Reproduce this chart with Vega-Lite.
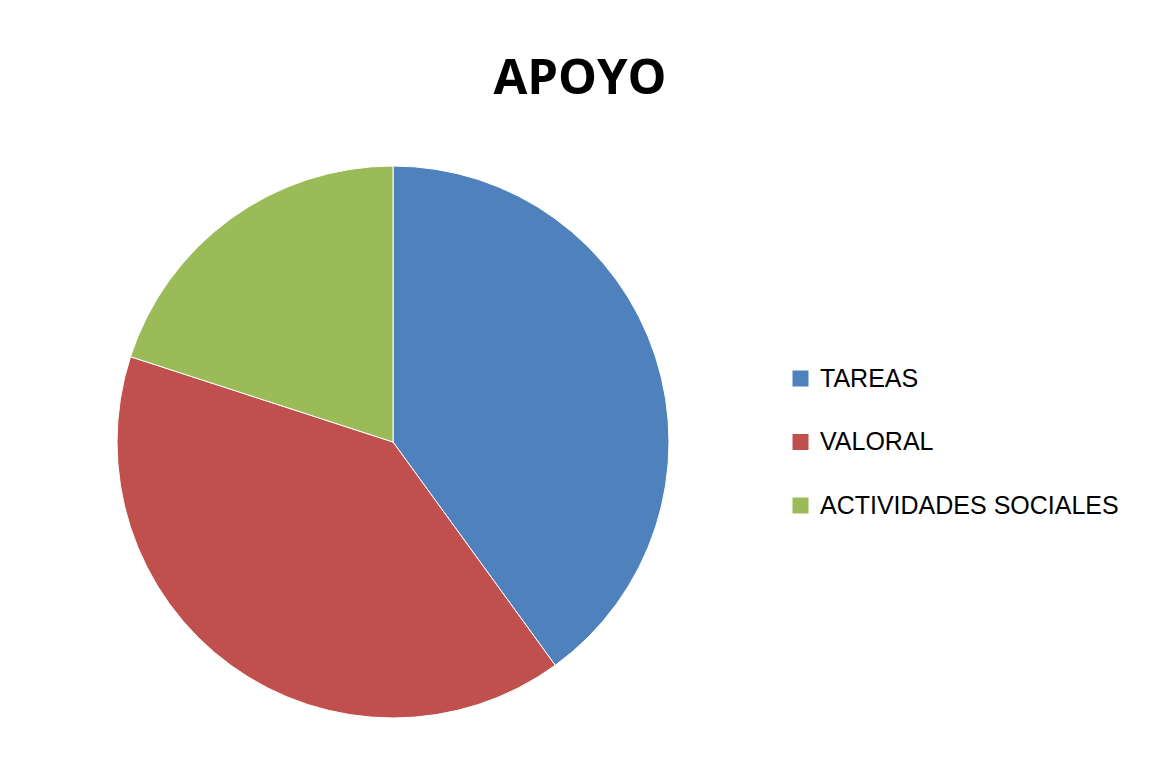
{
  "$schema": "https://vega.github.io/schema/vega-lite/v6.json",
  "autosize": "none",
  "padding": {"left": 0, "top": 120, "right": 363, "bottom": 0},
  "width": 786,
  "height": 644,
  "background": "white",
  "config": {"view": {"stroke": null}},
  "title": {
    "text": "APOYO",
    "font": "Open Sans",
    "fontSize": 49,
    "fontWeight": "bold",
    "color": "#000000",
    "anchor": "middle",
    "frame": "group",
    "orient": "top",
    "baseline": "alphabetic",
    "offset": 26,
    "dx": 187,
    "dy": 49
  },
  "data": {
    "values": [
      {"categoria": "TAREAS", "valor": 40, "orden": 1},
      {"categoria": "VALORAL", "valor": 40, "orden": 2},
      {"categoria": "ACTIVIDADES SOCIALES", "valor": 20, "orden": 3}
    ]
  },
  "mark": {"type": "arc", "outerRadius": 276, "stroke": "white", "strokeWidth": 1},
  "encoding": {
    "theta": {"field": "valor", "type": "quantitative", "stack": true},
    "order": {"field": "orden", "type": "quantitative", "sort": "ascending"},
    "color": {
      "field": "categoria",
      "type": "nominal",
      "sort": ["TAREAS", "VALORAL", "ACTIVIDADES SOCIALES"],
      "scale": {
        "domain": ["TAREAS", "VALORAL", "ACTIVIDADES SOCIALES"],
        "range": ["#4F81BD", "#C0504D", "#9BBB59"]
      },
      "legend": {
        "title": null,
        "orient": "none",
        "legendX": 788,
        "legendY": 246,
        "symbolType": "square",
        "symbolSize": 256,
        "symbolStrokeWidth": 0,
        "labelFont": "Liberation Sans",
        "labelFontSize": 25,
        "labelColor": "#000000",
        "labelOffset": 7,
        "rowPadding": 37.5,
        "labelLimit": 400
      }
    }
  }
}
